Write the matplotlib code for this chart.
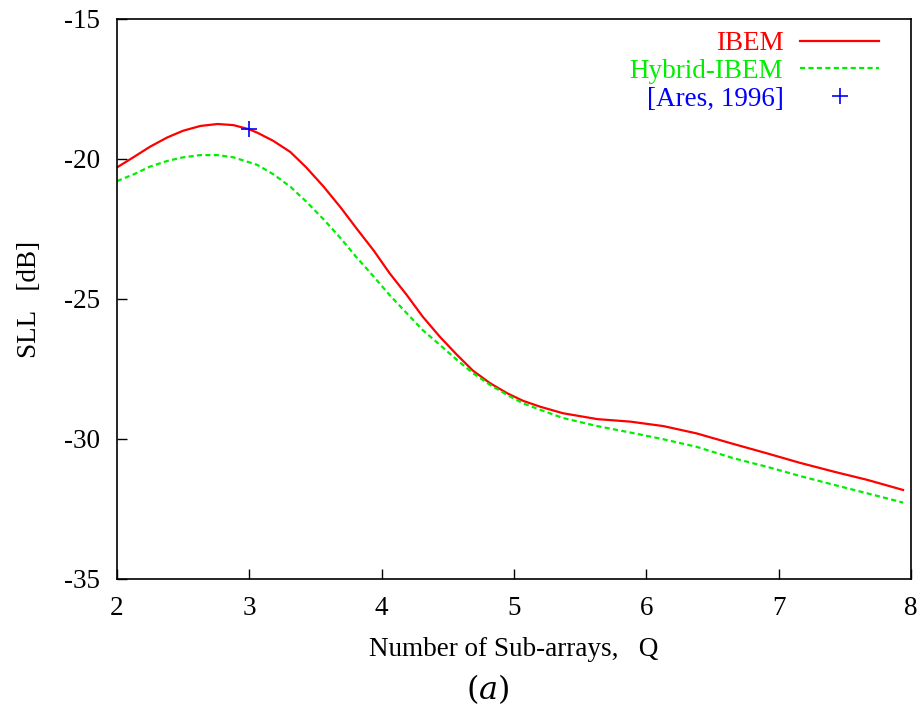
import matplotlib.pyplot as plt
import numpy as np

plt.rcParams['font.family'] = ['Liberation Serif', 'DejaVu Serif']
plt.rcParams['mathtext.fontset'] = 'dejavuserif'

# IBEM curve
q_ibem = [2.0, 2.13, 2.25, 2.38, 2.5, 2.63, 2.76, 2.88, 3.0, 3.06, 3.18, 3.31, 3.43, 3.56, 3.69, 3.81,
          3.94, 4.06, 4.19, 4.31, 4.44, 4.57, 4.69, 4.82, 4.95, 5.07, 5.2, 5.37, 5.63, 5.88, 6.13,
          6.38, 6.66, 6.91, 7.16, 7.42, 7.67, 7.94]
sll_ibem = [-20.30, -19.92, -19.56, -19.23, -18.99, -18.82, -18.75, -18.79, -18.94, -19.06, -19.35,
            -19.75, -20.30, -20.98, -21.73, -22.48, -23.27, -24.08, -24.86, -25.63, -26.35, -27.0,
            -27.56, -28.01, -28.37, -28.64, -28.85, -29.08, -29.29, -29.38, -29.54, -29.80, -30.18,
            -30.51, -30.85, -31.17, -31.46, -31.82]

# Hybrid-IBEM curve
q_hyb = [2.0, 2.13, 2.25, 2.38, 2.5, 2.63, 2.76, 2.88, 3.0, 3.06, 3.18, 3.31, 3.43, 3.56, 3.69, 3.81,
         3.94, 4.06, 4.19, 4.31, 4.44, 4.57, 4.69, 4.82, 4.95, 5.07, 5.2, 5.37, 5.63, 5.88, 6.13,
         6.38, 6.66, 6.91, 7.16, 7.42, 7.67, 7.94]
sll_hyb = [-20.79, -20.54, -20.27, -20.07, -19.94, -19.86, -19.86, -19.94, -20.12, -20.21, -20.54,
           -20.99, -21.52, -22.15, -22.83, -23.51, -24.20, -24.86, -25.51, -26.11, -26.64, -27.18,
           -27.65, -28.07, -28.43, -28.73, -28.96, -29.25, -29.54, -29.77, -30.01, -30.28, -30.69,
           -30.99, -31.32, -31.64, -31.94, -32.27]

# reference point
q_ares = [3.0]
sll_ares = [-18.94]

fig = plt.figure(figsize=(9.24, 7.17), dpi=100)
ax = fig.add_axes([117/924, 1-579/717, (911-117)/924, (579-19)/717])

ax.plot(q_ibem, sll_ibem, color='#ff0000', lw=1.6, label='IBEM')
ax.plot(q_hyb, sll_hyb, color='#00ee00', lw=1.6, ls=(0, (2.3, 1.5)), label='Hybrid-IBEM')
ax.plot(q_ares, sll_ares, ls='none', marker='+', ms=12, mew=1.2, color='#0000ff', label='[Ares, 1996]')

ax.set_xlim(2, 8)
ax.set_ylim(-35, -15)
ax.set_xticks([2, 3, 4, 5, 6, 7, 8])
ax.set_yticks([-35, -30, -25, -20, -15])
ax.set_yticklabels(['-35', '-30', '-25', '-20', '-15'])
ax.tick_params(direction='in', length=7, width=1, labelsize=19.5)
ax.tick_params(axis='x', pad=12)
ax.tick_params(axis='y', pad=12)
for s in ax.spines.values():
    s.set_linewidth(1.2)

ax.set_xlabel('Number of Sub-arrays,   Q', fontsize=19.5, labelpad=12)
ax.set_ylabel('SLL   [dB]', fontsize=19.5, labelpad=16)

ax.legend(loc='upper right', bbox_to_anchor=(879/924, 1-31/717), bbox_transform=fig.transFigure,
          frameon=False, markerfirst=False, labelcolor='linecolor', fontsize=19.5,
          handlelength=2.9, handletextpad=0.63, borderpad=0, borderaxespad=0, labelspacing=0.1)

fig.text(488/924, 1-689/717, '$(a)$', fontsize=23, ha='center', va='center')

plt.savefig('out.png', dpi=100)
